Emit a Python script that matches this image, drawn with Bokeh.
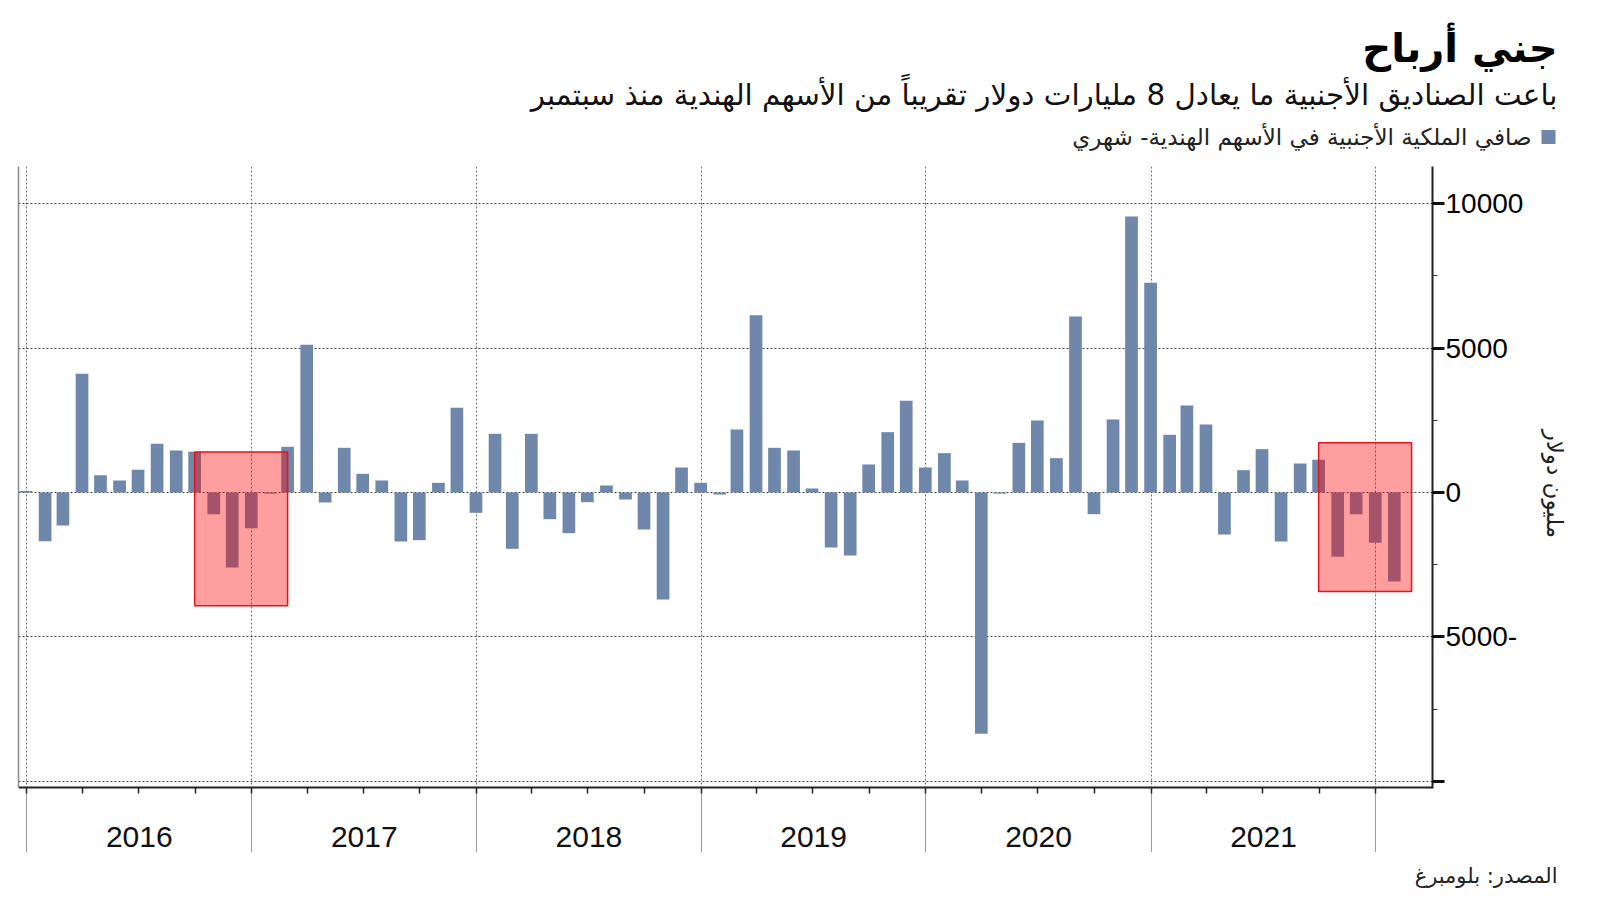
import pandas as pd
from bokeh.plotting import figure
from bokeh.layouts import column
from bokeh.models import (Range1d, LinearAxis, DatetimeAxis, FixedTicker, BoxAnnotation,
                          Label, ColumnDataSource)
from bokeh.embed import file_html
from bokeh.resources import INLINE

# ---------------- data ----------------
# Net foreign ownership of Indian equities, monthly (USD mn), month-end, Dec 2015 .. Jan 2022
flows = [50,
         -1690, -1140, 4110, 600, 416, 785, 1686, 1455, 1409, -750, -2598, -1236,
         -40, 1582, 5115, -346, 1547, 647, 416, -1697, -1651, 335, 2933, -704,
         2032, -1951, 2032, -924, -1409, -335, 242, -242, -1282, -3707, 866, 335,
         -70, 2182, 6143, 1547, 1455, 139, -1905, -2182, 970, 2090, 3176, 866,
         1363, 416, -8360, -40, 1720, 2494, 1189, 6097, -750, 2529, 9561, 7263,
         1998, 3014, 2356, -1455, 774, 1501, -1697, 1005, 1132, -2229, -750, -1744,
         -3083]
first_month = "2015-12-01"
years = ["2016", "2017", "2018", "2019", "2020", "2021"]
y_ticks = [-10000, -5000, 0, 5000, 10000]
y_minor = [-7500, -2500, 2500, 7500]
y_labels = {-10000: "", -5000: "5000-"}
# highlighted selling periods (from month-end, to month-end, low, high)
hl_from = ["2016-09-30", "2021-09-30"]
hl_to = ["2017-02-28", "2022-02-28"]
hl_low = [-3925, -3430]
hl_high = [1400, 1720]

title = "جني أرباح"
subtitle = "باعت الصناديق الأجنبية ما يعادل 8 مليارات دولار تقريباً من الأسهم الهندية منذ سبتمبر"
legend_text = "صافي الملكية الأجنبية في الأسهم الهندية- شهري"
y_title = "مليون دولار"
source_text = "المصدر: بلومبرغ"

# ---------------- styling ----------------
BAR = "#6e87ab"
AR_FONT = "DejaVu Sans"
W = 1584
HEAD_H = 166

months = pd.date_range(first_month, periods=len(flows), freq="MS") + pd.offsets.MonthEnd(0)
src = ColumnDataSource(dict(month=months, flow=flows))

def ms(d):
    return pd.Timestamp(d).value / 1e6

DAY = 86400000.0
jan2016 = ms("2016-01-01")
x_start = jan2016 - 13.2 * DAY
x_end = jan2016 + 2284 * DAY

# vertical geometry of the main panel (page pixels)
FT, AXIS_Y, FB = 166, 787, 852
PX_PER_UNIT = 144.35 / 5000.0
ZERO_Y = 492
def Y(py):
    return (ZERO_Y - py) / PX_PER_UNIT
y_start, y_end = Y(FB), Y(FT)

# ---------------- header ----------------
head = figure(width=W, height=HEAD_H, x_range=Range1d(0, W), y_range=Range1d(HEAD_H, 0),
              x_axis_location=None, y_axis_location=None, output_backend="svg",
              toolbar_location=None, min_border=0)
head.frame_align = False
head.outline_line_color = None
head.grid.visible = False
head.add_layout(Label(x=1557, y=47, text=title, text_align="right", text_baseline="middle",
                      text_font=AR_FONT, text_font_size="40px", text_font_style="bold",
                      text_color="#000000"))
head.add_layout(Label(x=1557, y=94, text=subtitle, text_align="right", text_baseline="middle",
                      text_font=AR_FONT, text_font_size="29.4px", text_color="#111111"))
head.add_layout(Label(x=1531, y=136, text=legend_text, text_align="right", text_baseline="middle",
                      text_font=AR_FONT, text_font_size="23px", text_color="#222222"))
head.rect(x=[1548], y=[136.5], width=[14], height=[14], fill_color=BAR, line_color=None)

# ---------------- main chart ----------------
p = figure(frame_width=1414, frame_height=FB - FT, x_axis_type="datetime", y_axis_location="right",
           x_range=Range1d(x_start, x_end), y_range=Range1d(y_start, y_end),
           output_backend="svg", toolbar_location=None,
           min_border_left=18, min_border_right=152, min_border_top=0, min_border_bottom=0)
p.outline_line_color = None

p.vbar(x="month", top="flow", bottom=0, width=20.6 * DAY, source=src,
       fill_color=BAR, line_color=None)

bounds = [ms(f"{y}-01-01") for y in range(2016, 2023)]
quarters = [ms(f"{y}-{m:02d}-01") for y in range(2016, 2022) for m in (1, 4, 7, 10)] + [ms("2022-01-01")]
mids = [(bounds[i] + bounds[i + 1]) / 2 for i in range(len(years))]

xa = p.xaxis[0]
xa.fixed_location = Y(AXIS_Y)
xa.ticker = FixedTicker(ticks=bounds, minor_ticks=quarters)
xa.major_label_overrides = {int(t): "" for t in bounds}
xa.axis_line_color = "#222222"
xa.axis_line_width = 2
xa.major_tick_out = FB - AXIS_Y
xa.major_tick_in = 0
xa.major_tick_line_color = "#9a9a9a"
xa.major_tick_line_width = 1
xa.minor_tick_out = 6
xa.minor_tick_in = 0
xa.minor_tick_line_color = "#222222"
xa.minor_tick_line_width = 1.5
xa.major_label_standoff = 0

year_axis = DatetimeAxis(ticker=FixedTicker(ticks=mids, minor_ticks=[]),
                         major_label_overrides={int(m): y for m, y in zip(mids, years)},
                         fixed_location=Y(AXIS_Y), axis_line_color=None,
                         major_tick_out=0, major_tick_in=0, minor_tick_out=0, minor_tick_in=0,
                         major_label_standoff=39, major_label_text_font="Liberation Sans",
                         major_label_text_font_size="30px", major_label_text_color="#111111")
p.add_layout(year_axis, "below")

ya = p.yaxis[0]
ya.bounds = (Y(AXIS_Y + 1), y_end)
ya.ticker = FixedTicker(ticks=y_ticks, minor_ticks=y_minor)
ya.major_label_overrides = y_labels
ya.axis_line_color = "#222222"
ya.axis_line_width = 2
ya.major_tick_out = 12
ya.major_tick_in = 0
ya.major_tick_line_width = 3
ya.major_tick_line_color = "#111111"
ya.minor_tick_out = 5
ya.minor_tick_in = 0
ya.minor_tick_line_color = "#333333"
ya.major_label_standoff = 1
ya.major_label_text_font = "Liberation Sans"
ya.major_label_text_font_size = "28px"
ya.major_label_text_color = "#000000"
# trailing no-break spaces lift the rotated label to the centre of the value axis
ya.axis_label = y_title + "\u00a0" * 7
ya.axis_label_text_font = AR_FONT
ya.axis_label_text_font_size = "23px"
ya.axis_label_text_font_style = "normal"
ya.axis_label_text_color = "#222222"
ya.axis_label_standoff = 16

left = LinearAxis(ticker=FixedTicker(ticks=[]), axis_line_color="#8a8a8a", axis_line_width=1.5,
                  major_tick_out=0, major_tick_in=0, minor_tick_out=0, minor_tick_in=0,
                  major_label_standoff=0, bounds=(Y(AXIS_Y), y_end))
p.add_layout(left, "left")

p.xgrid[0].ticker = FixedTicker(ticks=bounds)
p.ygrid[0].ticker = FixedTicker(ticks=y_ticks)
p.xgrid[0].grid_line_color = "#707070"
p.ygrid[0].grid_line_color = "#444444"
for g in (p.xgrid[0], p.ygrid[0]):
    g.grid_line_dash = "2 2"
    g.grid_line_width = 1

for lo, hi, a, b in zip(hl_low, hl_high, hl_from, hl_to):
    p.add_layout(BoxAnnotation(left=ms(a), right=ms(b), bottom=lo, top=hi,
                               fill_color="#ff0000", fill_alpha=0.38,
                               line_color="#e3141b", line_width=1.5, line_alpha=1))

# ---------------- footer ----------------
foot = figure(width=W, height=45, x_range=Range1d(0, W), y_range=Range1d(897, 852),
              x_axis_location=None, y_axis_location=None, output_backend="svg",
              toolbar_location=None, min_border=0)
foot.frame_align = False
foot.outline_line_color = None
foot.grid.visible = False
foot.add_layout(Label(x=1557, y=875, text=source_text, text_align="right", text_baseline="middle",
                      text_font=AR_FONT, text_font_size="21px", text_color="#222222"))

layout = column(head, p, foot, spacing=0)
open("out.html", "w").write(file_html(layout, INLINE))
